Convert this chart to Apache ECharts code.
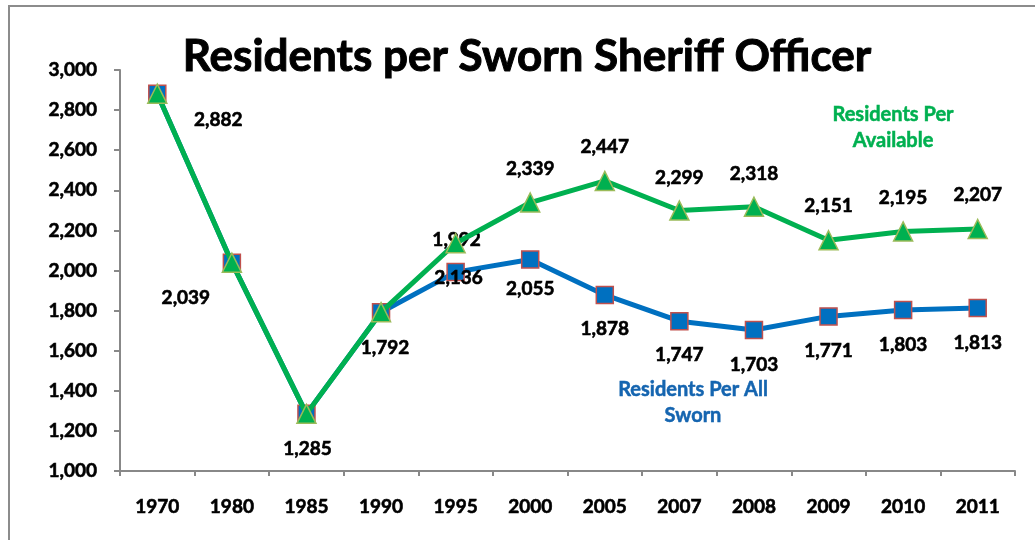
<!DOCTYPE html>
<html>
<head>
<meta charset="utf-8">
<script src="https://cdn.jsdelivr.net/npm/echarts@6/dist/echarts.min.js"></script>
<style>
html,body{margin:0;padding:0;background:#fff;}
#chart{width:1035px;height:540px;}
</style>
</head>
<body>
<div id="chart"></div>
<script>
// ---- data ----
var years = ['1970','1980','1985','1990','1995','2000','2005','2007','2008','2009','2010','2011'];
var allSworn = [2882, 2039, 1285, 1792, 1992, 2055, 1878, 1747, 1703, 1771, 1803, 1813];
var available = [2882, 2039, 1285, 1792, 2136, 2339, 2447, 2299, 2318, 2151, 2195, 2207];
var yTicks = [1000, 1200, 1400, 1600, 1800, 2000, 2200, 2400, 2600, 2800, 3000];
var titleText = 'Residents per Sworn Sheriff Officer';
var nameAvailable = ['Residents Per', 'Available'];
var nameAllSworn = ['Residents Per All', 'Sworn'];

// ---- styling ----
var FONT = 'Lato';
var FW = 'bold';
var BLUE = '#0070C0';
var GREEN = '#00B050';
function fmt(v){ return Number(v).toLocaleString('en-US'); }

var labelBase = {show:true, position:'inside', fontFamily:FONT, fontWeight:FW, fontSize:19, color:'#000',
  textBorderColor:'#000', textBorderWidth:0.6,
  formatter:function(p){return fmt(p.value);}};

// label offsets (layout only)
var blueOffsets = [[61,26],[-46,35],[1,35],[4,36],[1,-32],[0,29],[0,34],[0,34],[0,35],[0,34],[0,35],[0,35]];
var greenOffsets = [null,null,null,null,[3,35],[0,-34],[0,-34],[0,-33],[0,-33],[0,-34],[0,-34],[0,-34]];

var blueData = allSworn.map(function(v,i){
  return {value:v, label:{offset:blueOffsets[i]}};
});
var greenData = available.map(function(v,i){
  var o = greenOffsets[i];
  return o ? {value:v, label:{offset:o}} : {value:v, label:{show:false}};
});

var tickLabel = {fontFamily:FONT, fontWeight:FW, fontSize:19, color:'#000', textBorderColor:'#000', textBorderWidth:0.6};

var chart = echarts.init(document.getElementById('chart'));
chart.setOption({
  animation:false,
  backgroundColor:'#fff',
  grid:{left:120, right:20, top:70, bottom:69},
  xAxis:{
    type:'category', data:years, boundaryGap:true,
    axisLine:{lineStyle:{color:'#888', width:2}},
    axisTick:{show:true, length:5, lineStyle:{color:'#888', width:2}},
    axisLabel:Object.assign({margin:26}, tickLabel)
  },
  yAxis:{
    type:'value', min:yTicks[0], max:yTicks[yTicks.length-1], interval:200,
    splitLine:{show:false},
    axisLine:{show:true, lineStyle:{color:'#888', width:2}},
    axisTick:{show:true, length:6, lineStyle:{color:'#888', width:2}},
    axisLabel:Object.assign({margin:23, formatter:function(v){return fmt(v);}}, tickLabel)
  },
  series:[
    {
      name:nameAllSworn.join(' '), type:'line', data:blueData,
      symbol:'rect', symbolSize:17, showAllSymbol:true,
      lineStyle:{color:BLUE, width:5},
      itemStyle:{color:BLUE, borderColor:'#C0504D', borderWidth:1.5},
      label:labelBase, z:2
    },
    {
      name:nameAvailable.join(' '), type:'line', data:greenData,
      symbol:'triangle', symbolSize:19, showAllSymbol:true,
      lineStyle:{color:GREEN, width:5},
      itemStyle:{color:GREEN, borderColor:'#9BBB59', borderWidth:1.5},
      label:labelBase, z:3
    }
  ],
  graphic:[
    {type:'rect', shape:{x:9, y:6, width:1100, height:600}, style:{fill:'none', stroke:'#8c8c8c', lineWidth:2}, z:-1, silent:true},
    {type:'text', x:527, y:57, style:{text:titleText, fontFamily:FONT, fontWeight:'bold', fontSize:44, fill:'#000', stroke:'#000', lineWidth:1, align:'center', verticalAlign:'middle'}},
    {type:'text', x:893, y:128, style:{text:nameAvailable.join('\n'), fontFamily:FONT, fontWeight:FW, fontSize:20, lineHeight:26, fill:GREEN, stroke:GREEN, lineWidth:0.5, align:'center', verticalAlign:'middle'}},
    {type:'text', x:693, y:403, style:{text:nameAllSworn.join('\n'), fontFamily:FONT, fontWeight:FW, fontSize:20, lineHeight:26, fill:'#1565B0', stroke:'#1565B0', lineWidth:0.5, align:'center', verticalAlign:'middle'}}
  ]
});
</script>
</body>
</html>
